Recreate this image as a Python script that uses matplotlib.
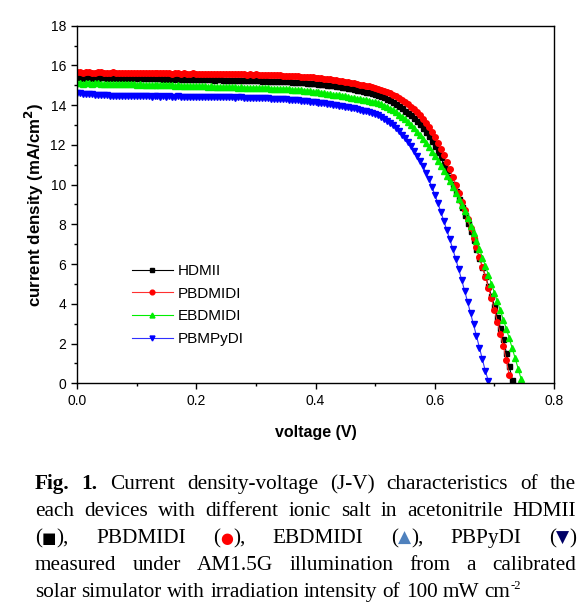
import matplotlib
matplotlib.use("Agg")
import numpy as np
import matplotlib.pyplot as plt
from matplotlib.ticker import MultipleLocator

# J-V curves, one point every 5 mV starting at 0 V (current density in mA/cm2)
voltage_step = 0.005

hdmii = [
    15.40, 15.41, 15.39, 15.40, 15.41, 15.38, 15.40, 15.39, 15.41, 15.40,
    15.38, 15.39, 15.40, 15.38, 15.37, 15.39, 15.38, 15.37, 15.38, 15.39,
    15.37, 15.38, 15.36, 15.37, 15.36, 15.35, 15.36, 15.37, 15.35, 15.34,
    15.35, 15.34, 15.33, 15.35, 15.34, 15.33, 15.32, 15.33, 15.34, 15.32,
    15.32, 15.31, 15.32, 15.30, 15.31, 15.30, 15.29, 15.30, 15.31, 15.29,
    15.29, 15.28, 15.29, 15.27, 15.28, 15.26, 15.27, 15.26, 15.25, 15.26,
    15.26, 15.25, 15.24, 15.25, 15.23, 15.24, 15.22, 15.23, 15.22, 15.21,
    15.21, 15.20, 15.19, 15.18, 15.17, 15.16, 15.15, 15.14, 15.12, 15.11,
    15.10, 15.09, 15.07, 15.06, 15.04, 15.02, 15.00, 14.98, 14.95, 14.92,
    14.90, 14.88, 14.85, 14.81, 14.78, 14.75, 14.72, 14.68, 14.64, 14.61,
    14.58, 14.52, 14.46, 14.39, 14.32, 14.25, 14.16, 14.07, 13.98, 13.86,
    13.73, 13.61, 13.48, 13.34, 13.19, 13.03, 12.85, 12.65, 12.43, 12.19,
    11.93, 11.66, 11.37, 11.06, 10.74, 10.40, 10.04, 9.67, 9.28, 8.88,
    8.47, 8.07, 7.65, 7.22, 6.78, 6.33, 5.86, 5.39, 4.90, 4.41,
    3.90, 3.36, 2.80, 2.21, 1.55, 0.85, 0.18,
]

pbdmidi = [
    15.65, 15.66, 15.64, 15.65, 15.66, 15.63, 15.64, 15.65, 15.66, 15.64,
    15.63, 15.64, 15.65, 15.63, 15.62, 15.64, 15.63, 15.62, 15.63, 15.64,
    15.62, 15.63, 15.61, 15.62, 15.63, 15.61, 15.60, 15.62, 15.61, 15.60,
    15.61, 15.60, 15.59, 15.61, 15.60, 15.59, 15.60, 15.58, 15.59, 15.60,
    15.58, 15.57, 15.59, 15.58, 15.57, 15.58, 15.56, 15.57, 15.58, 15.56,
    15.57, 15.56, 15.55, 15.57, 15.56, 15.55, 15.56, 15.54, 15.55, 15.54,
    15.55, 15.53, 15.54, 15.52, 15.53, 15.51, 15.52, 15.50, 15.51, 15.49,
    15.49, 15.48, 15.47, 15.46, 15.45, 15.44, 15.43, 15.42, 15.41, 15.40,
    15.39, 15.37, 15.36, 15.34, 15.32, 15.30, 15.28, 15.26, 15.23, 15.21,
    15.18, 15.16, 15.13, 15.10, 15.07, 15.04, 15.01, 14.98, 14.94, 14.91,
    14.88, 14.83, 14.78, 14.72, 14.66, 14.60, 14.52, 14.44, 14.36, 14.26,
    14.15, 14.04, 13.92, 13.79, 13.64, 13.48, 13.30, 13.10, 12.88, 12.64,
    12.38, 12.10, 11.80, 11.48, 11.14, 10.78, 10.40, 10.00, 9.58, 9.15,
    8.71, 8.26, 7.80, 7.33, 6.85, 6.36, 5.86, 5.35, 4.82, 4.27,
    3.70, 3.11, 2.50, 1.87, 1.15, 0.40,
]

ebdmidi = [
    15.10, 15.12, 15.09, 15.11, 15.10, 15.08, 15.10, 15.11, 15.09, 15.08,
    15.07, 15.09, 15.08, 15.06, 15.08, 15.07, 15.05, 15.06, 15.07, 15.05,
    15.04, 15.05, 15.03, 15.04, 15.02, 15.03, 15.01, 15.02, 15.00, 15.01,
    15.00, 14.99, 15.00, 14.98, 14.99, 14.97, 14.98, 14.96, 14.97, 14.96,
    14.95, 14.96, 14.94, 14.95, 14.93, 14.94, 14.92, 14.93, 14.91, 14.92,
    14.90, 14.91, 14.89, 14.90, 14.88, 14.89, 14.87, 14.88, 14.86, 14.87,
    14.86, 14.87, 14.85, 14.84, 14.85, 14.83, 14.82, 14.83, 14.81, 14.81,
    14.80, 14.79, 14.78, 14.77, 14.76, 14.74, 14.73, 14.71, 14.70, 14.68,
    14.66, 14.64, 14.62, 14.60, 14.58, 14.55, 14.53, 14.51, 14.49, 14.46,
    14.44, 14.41, 14.38, 14.36, 14.33, 14.30, 14.27, 14.24, 14.21, 14.18,
    14.15, 14.10, 14.04, 13.98, 13.91, 13.83, 13.74, 13.64, 13.53, 13.41,
    13.28, 13.14, 12.99, 12.83, 12.66, 12.48, 12.29, 12.09, 11.88, 11.66,
    11.43, 11.19, 10.94, 10.69, 10.43, 10.16, 9.88, 9.59, 9.29, 8.98,
    8.66, 8.30, 7.93, 7.55, 7.16, 6.75, 6.33, 5.90, 5.46, 5.02,
    4.57, 4.12, 3.67, 3.21, 2.75, 2.26, 1.76, 1.25, 0.73, 0.20,
]

pbmpydi = [
    14.62, 14.60, 14.58, 14.57, 14.55, 14.54, 14.53, 14.52, 14.50, 14.50,
    14.49, 14.48, 14.48, 14.47, 14.46, 14.47, 14.46, 14.45, 14.46, 14.45,
    14.45, 14.44, 14.45, 14.44, 14.45, 14.43, 14.44, 14.45, 14.43, 14.44,
    14.43, 14.44, 14.42, 14.43, 14.44, 14.42, 14.43, 14.42, 14.41, 14.43,
    14.42, 14.41, 14.42, 14.40, 14.41, 14.42, 14.40, 14.41, 14.39, 14.40,
    14.41, 14.39, 14.40, 14.38, 14.39, 14.40, 14.38, 14.37, 14.38, 14.36,
    14.37, 14.35, 14.36, 14.34, 14.35, 14.33, 14.32, 14.33, 14.31, 14.30,
    14.29, 14.28, 14.26, 14.25, 14.24, 14.22, 14.21, 14.19, 14.18, 14.16,
    14.15, 14.13, 14.11, 14.09, 14.07, 14.05, 14.03, 14.00, 13.98, 13.95,
    13.93, 13.90, 13.87, 13.84, 13.81, 13.77, 13.73, 13.69, 13.65, 13.60,
    13.55, 13.48, 13.40, 13.31, 13.21, 13.10, 12.98, 12.84, 12.69, 12.52,
    12.34, 12.14, 11.93, 11.70, 11.46, 11.20, 10.92, 10.61, 10.27, 9.90,
    9.50, 9.08, 8.64, 8.19, 7.73, 7.26, 6.78, 6.28, 5.76, 5.22,
    4.67, 4.11, 3.54, 2.96, 2.38, 1.79, 1.20, 0.60, 0.12,
]

caption_lines = [
    "Fig. 1. Current density-voltage (J-V) characteristics of the",
    "each devices with different ionic salt in acetonitrile HDMII",
    "(■), PBDMIDI (●), EBDMIDI (▲), PBPyDI (▼)",
    "measured under AM1.5G illumination from a calibrated",
    "solar simulator with irradiation intensity of 100 mW cm^-2",
]
symbol_colors = {"■": "black", "●": "#ff0000", "▲": "#4f81bd", "▼": "#000066"}
symbol_scale = {"■": 0.72, "●": 0.7, "▲": 0.8, "▼": 0.8}


def volts(values):
    return np.arange(len(values)) * voltage_step


plt.rcParams["font.family"] = ["Liberation Sans", "DejaVu Sans"]

W, H = 588, 613
fig = plt.figure(figsize=(W / 100, H / 100), dpi=100)
ax = fig.add_axes([77 / W, 1 - 383.3 / H, 477 / W, 357.6 / H])

ax.plot(volts(hdmii), hdmii, color="black", lw=0.8, marker="s", ms=3.6,
        mec="black", label="HDMII")
ax.plot(volts(pbdmidi), pbdmidi, color="#ff3030", lw=0.8, marker="o", ms=4.0,
        mec="#ff0000", mfc="#ff0000", label="PBDMIDI")
ax.plot(volts(ebdmidi), ebdmidi, color="#00ee00", lw=0.8, marker="^", ms=4.2,
        mec="#00ee00", mfc="#00ee00", label="EBDMIDI")
ax.plot(volts(pbmpydi), pbmpydi, color="#3030ff", lw=0.8, marker="v", ms=4.2,
        mec="#0000ff", mfc="#0000ff", label="PBMPyDI")

ax.set_xlim(0, 0.8)
ax.set_ylim(0, 18)
ax.xaxis.set_major_locator(MultipleLocator(0.2))
ax.xaxis.set_minor_locator(MultipleLocator(0.1))
ax.yaxis.set_major_locator(MultipleLocator(2))
ax.yaxis.set_minor_locator(MultipleLocator(1))
ax.set_xticklabels([f"{v:.1f}" for v in ax.get_xticks()])
ax.tick_params(which="major", direction="out", length=4.5, width=1.0, labelsize=10)
ax.tick_params(which="minor", direction="out", length=2.5, width=1.0)
for s in ax.spines.values():
    s.set_linewidth(1.0)

ax.set_xlabel("voltage (V)", fontsize=11.5, fontweight="bold", labelpad=12)
ax.set_ylabel("current density (mA/cm$^\\mathbf{2}$)", fontsize=12.2,
              fontweight="bold", labelpad=3)

ax.legend(loc="upper left", bbox_to_anchor=(0.102, 0.35), frameon=False,
          fontsize=11, numpoints=1, handlelength=2.7, handletextpad=0.3,
          labelspacing=0.56, borderaxespad=0, markerscale=0.85)

# caption below the chart, justified like in the paper
renderer = fig.canvas.get_renderer()
cap_size = 15.3
x_left, x_right = 35, 576
baseline0, line_gap = 489, 27


def word_segments(word, bold):
    if "^" in word:
        base, sup = word.split("^")
        return [(base, "black", "normal", 1.0, 0), (sup, "black", "normal", 0.6, 8)]
    segs, buf = [], ""
    for ch in word:
        if ch in symbol_colors:
            if buf:
                segs.append((buf, "black", "bold" if bold else "normal", 1.0, 0))
                buf = ""
            segs.append((ch, symbol_colors[ch], "sym", symbol_scale[ch], 0))
        else:
            buf += ch
    if buf:
        segs.append((buf, "black", "bold" if bold else "normal", 1.0, 0))
    return segs


for row, line in enumerate(caption_lines):
    base_y = baseline0 + row * line_gap
    words = line.split(" ")
    placed = []
    for k, word in enumerate(words):
        items = []
        for text, color, weight, scale, dy in word_segments(word, row == 0 and k < 2):
            if weight == "sym":
                t = fig.text(0, 0, text, color=color, fontsize=cap_size * scale,
                             family="DejaVu Sans", va="baseline")
            else:
                t = fig.text(0, 0, text, color=color, fontsize=cap_size * scale,
                             family=["Liberation Serif", "DejaVu Serif"],
                             fontweight=weight, va="baseline")
            w = t.get_window_extent(renderer).width
            items.append((t, w, dy))
        placed.append(items)
    widths = [sum(w for _, w, _ in items) for items in placed]
    if row == len(caption_lines) - 1:
        gap = cap_size * 1.389 * 0.25
    else:
        gap = (x_right - x_left - sum(widths)) / (len(words) - 1)
    x = x_left
    for items, wsum in zip(placed, widths):
        xx = x
        for t, w, dy in items:
            t.set_position((xx / W, 1 - (base_y - dy) / H))
            xx += w
        x += wsum + gap

fig.savefig("out.png", dpi=100)
